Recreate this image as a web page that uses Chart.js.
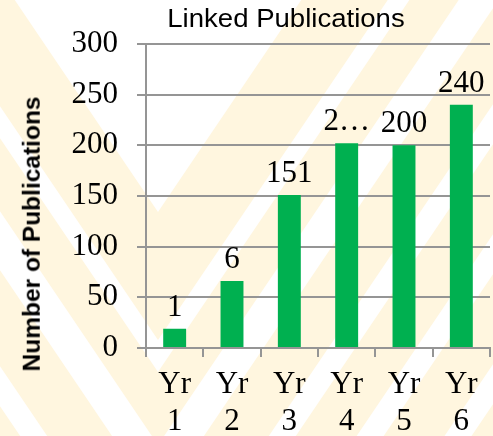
<!DOCTYPE html>
<html>
<head>
<meta charset="utf-8">
<script src="https://cdn.jsdelivr.net/npm/chart.js@4.4.1/dist/chart.umd.min.js"></script>
<style>
    body { margin: 0; background: #fff; }
    #wrap { position: relative; width: 493px; height: 436px; overflow: hidden; }
    #title {
        position: absolute; left: 286px; top: 5px;
        transform: translateX(-50%) scaleX(1.06);
        font: 26px "Liberation Sans", Arial, sans-serif; line-height: 1;
        white-space: nowrap; color: #000;
    }
    #ytitle {
        position: absolute; left: 32px; top: 234px;
        transform: translate(-50%, -50%) rotate(-90deg);
        font: bold 24.5px "Liberation Sans", Arial, sans-serif; line-height: 1;
        white-space: nowrap; color: #000;
    }
</style>
</head>
<body>
<div id="wrap">
    <canvas id="barChart" width="493" height="436"></canvas>
    <div id="title">Linked Publications</div>
    <div id="ytitle">Number of Publications</div>
</div>
<script>
const categories = [["Yr", "1"], ["Yr", "2"], ["Yr", "3"], ["Yr", "4"], ["Yr", "5"], ["Yr", "6"]];
const publications = [19, 66, 151, 202, 200, 240];
const barLabels = ["1", "6", "151", "2\u2026", "200", "240"];
const yMin = 0;
const yMax = 300;
const yStep = 50;

const gray = "#959595";
const serif = "'Liberation Serif', 'Times New Roman', serif";

// pale chevron stripes of the slide background (ranges measured on the fold line x=158)
const stripeRanges = [[212, 340], [372, 445], [504, 600], [640, 730], [770, 860], [900, 990]];

const chevronBackground = {
    id: "chevronBackground",
    beforeDraw(chart) {
        const ctx = chart.ctx;
        const w = chart.width, h = chart.height;
        const foldX = 158, slope = 1.48;
        ctx.save();
        ctx.fillStyle = "#ffffff";
        ctx.fillRect(0, 0, w, h);
        ctx.fillStyle = "#fff6df";
        stripeRanges.forEach(([a, b]) => {
            ctx.beginPath();
            ctx.moveTo(0, a - foldX * slope);
            ctx.lineTo(foldX, a);
            ctx.lineTo(w, a - (w - foldX) * slope);
            ctx.lineTo(w, b - (w - foldX) * slope);
            ctx.lineTo(foldX, b);
            ctx.lineTo(0, b - foldX * slope);
            ctx.closePath();
            ctx.fill();
        });
        ctx.restore();
    }
};

// value text above each bar
const barValueLabels = {
    id: "barValueLabels",
    afterDatasetsDraw(chart) {
        const ctx = chart.ctx;
        const meta = chart.getDatasetMeta(0);
        ctx.save();
        ctx.font = "31px " + serif;
        ctx.fillStyle = "#000";
        ctx.textAlign = "center";
        ctx.textBaseline = "alphabetic";
        meta.data.forEach((bar, i) => {
            ctx.fillText(barLabels[i], bar.x, bar.y - 13);
        });
        ctx.restore();
    }
};

const ctxBar = document.getElementById("barChart").getContext("2d");
new Chart(ctxBar, {
    type: "bar",
    data: {
        labels: categories,
        datasets: [{
            label: "Linked Publications",
            data: publications,
            backgroundColor: "#00b050",
            borderWidth: 0,
            barPercentage: 0.4,
            categoryPercentage: 1.0
        }]
    },
    options: {
        responsive: false,
        animation: false,
        layout: { padding: { top: 44, right: 3, left: 0, bottom: 0 } },
        plugins: {
            legend: { display: false },
            tooltip: { enabled: false },
            title: { display: false }
        },
        scales: {
            x: {
                grid: { offset: true, drawOnChartArea: false, tickLength: 9, color: gray, lineWidth: 2 },
                border: { color: gray, width: 2 },
                ticks: {
                    color: "#000",
                    font: { family: serif, size: 31, lineHeight: 1.2 },
                    padding: 9,
                    maxRotation: 0,
                    autoSkip: false
                },
                afterFit: scale => { scale.height = 88; }
            },
            y: {
                min: yMin,
                max: yMax,
                grid: { color: gray, lineWidth: 2, tickLength: 9 },
                border: { color: gray, width: 2 },
                ticks: {
                    stepSize: yStep,
                    color: "#000",
                    font: { family: serif, size: 31 },
                    padding: 19
                },
                afterFit: scale => { scale.width = 146; }
            }
        }
    },
    plugins: [chevronBackground, barValueLabels]
});
</script>
</body>
</html>
